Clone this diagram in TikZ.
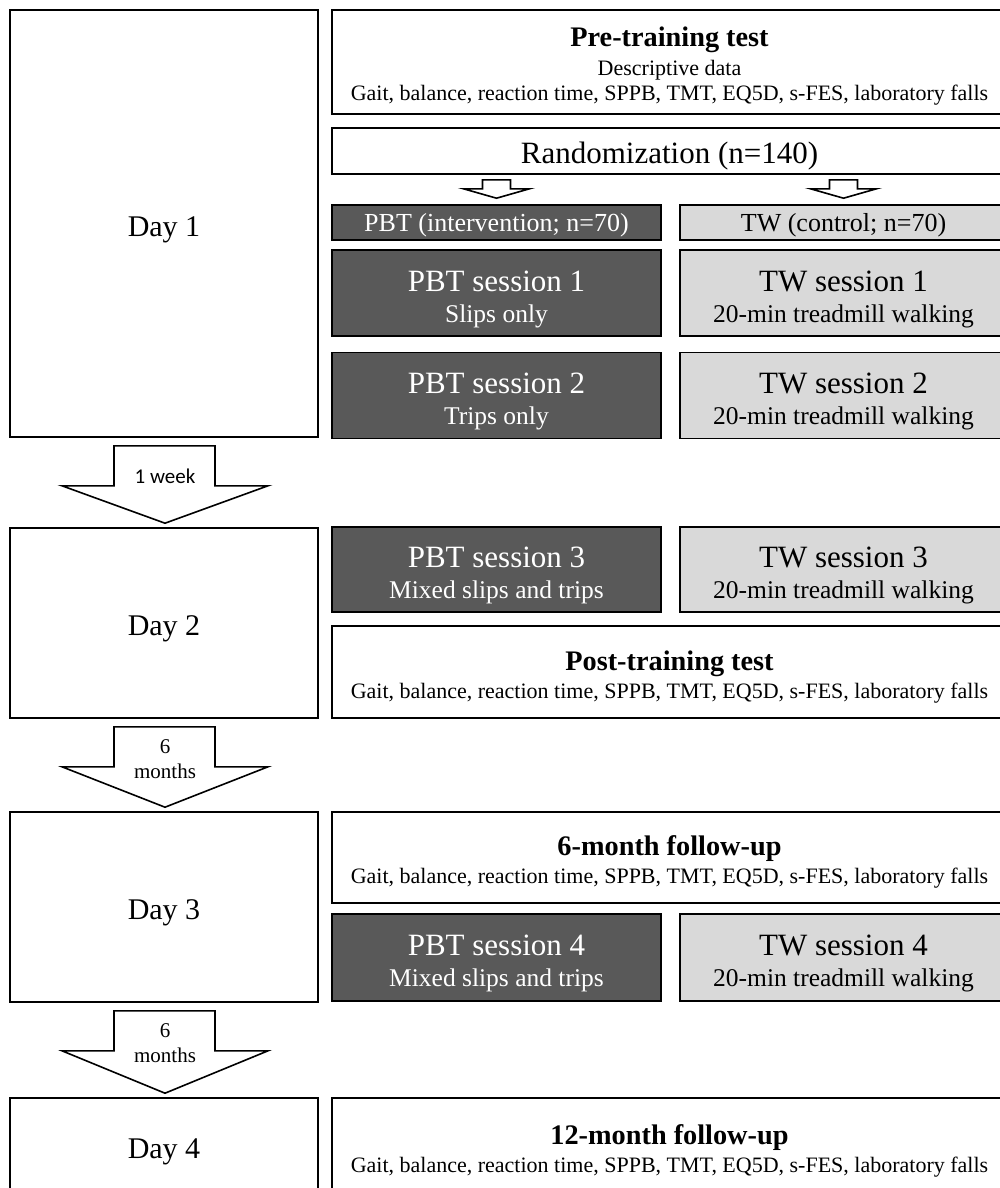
\documentclass[tikz,border=0pt]{standalone}
\usepackage{fontspec}
\setmainfont{Liberation Serif}
\newfontfamily\calibrifont{Carlito}
\usepackage{tikz}
\usetikzlibrary{calc}
\definecolor{pbtgray}{HTML}{595959}
\definecolor{twgray}{HTML}{D9D9D9}
\newcommand{\bigsize}{\fontsize{31}{33}\selectfont}
\newcommand{\headsize}{\fontsize{28.3}{31}\selectfont\bfseries}
\newcommand{\outcomes}{Gait, balance, reaction time, SPPB, TMT, EQ5D, s-FES, laboratory falls}

\begin{document}
\begin{tikzpicture}[x=1pt, y=-1pt,
		box/.style={draw, line width=1.6pt, inner sep=0pt, align=center},
		daybox/.style={box, minimum width=308pt, font=\fontsize{30}{33}\selectfont, text height=25pt, text depth=0pt},
		fullbox/.style={box, minimum width=675pt, font=\fontsize{22}{25}\selectfont, text height=52pt, text depth=0pt},
		pbtbox/.style={box, fill=pbtgray, text=white, minimum width=329pt},
		twbox/.style={box, fill=twgray, minimum width=327pt},
		session/.style={font=\fontsize{25.5}{31}\selectfont, text height=58pt, text depth=0pt},
		grouplabel/.style={minimum height=35pt, font=\fontsize{26}{28}\selectfont, text height=17pt, text depth=0pt},
		blockarrow/.style={draw, line width=1.6pt, fill=white, line join=miter}]
		\useasboundingbox (0,0) rectangle (1000,1188);
		\clip (0,0) rectangle (1000,1188);

		% Day column
		\node[daybox, minimum height=427pt] (day1) at (164,223.5) {Day 1};
		\node[daybox, minimum height=190pt] (day2) at (164,623) {Day 2};
		\node[daybox, minimum height=190pt] (day3) at (164,907) {Day 3};
		\node[daybox, minimum height=96pt] (day4) at (164,1146) {Day 4};

		% Day 1
		\node[fullbox, minimum height=104pt, text height=78pt] (pre) at (669.5,62)
			{\headsize Pre-training test\\[4pt] Descriptive data\\ \outcomes};
		\node[fullbox, minimum height=46pt, font=\bigsize, text height=24pt] (rand) at (669.5,151) {Randomization (n=140)};
		\node[pbtbox, grouplabel] (pbtg) at (496.5,222.5) {PBT (intervention; n=70)};
		\node[twbox, grouplabel] (twg) at (843.5,222.5) {TW (control; n=70)};
		\node[pbtbox, session, minimum height=86pt] (pbt1) at (496.5,293) {\bigsize PBT session 1\\ Slips only};
		\node[twbox, session, minimum height=86pt] (tw1) at (843.5,293) {\bigsize TW session 1\\ 20-min treadmill walking};
		\node[pbtbox, session, minimum height=86pt] (pbt2) at (496.5,395.5) {\bigsize PBT session 2\\ Trips only};
		\node[twbox, session, minimum height=86pt] (tw2) at (843.5,395.5) {\bigsize TW session 2\\ 20-min treadmill walking};

		% Day 2
		\node[pbtbox, session, minimum height=85pt] (pbt3) at (496.5,569.5) {\bigsize PBT session 3\\ Mixed slips and trips};
		\node[twbox, session, minimum height=85pt] (tw3) at (843.5,569.5) {\bigsize TW session 3\\ 20-min treadmill walking};
		\node[fullbox, minimum height=92pt] (post) at (669.5,672)
			{\headsize Post-training test\\[3pt] \outcomes};

		% Day 3
		\node[fullbox, minimum height=91pt] (fu6) at (669.5,857.5)
			{\headsize 6-month follow-up\\[3pt] \outcomes};
		\node[pbtbox, session, minimum height=87pt] (pbt4) at (496.5,957.5) {\bigsize PBT session 4\\ Mixed slips and trips};
		\node[twbox, session, minimum height=87pt] (tw4) at (843.5,957.5) {\bigsize TW session 4\\ 20-min treadmill walking};

		% Day 4
		\node[fullbox, minimum height=96pt] (fu12) at (669.5,1146)
			{\headsize 12-month follow-up\\[3pt] \outcomes};

		% Randomization arrows
		\foreach \grp in {pbtg, twg} {
				\coordinate (top) at (\grp.north |- rand.south);
				\draw[blockarrow] ($(top)+(-14,5)$) -- ($(top)+(14,5)$) -- ($(top)+(14,14)$)
					-- ($(top)+(33,14)$) -- ($(\grp.north)+(0,-6)$) -- ($(top)+(-33,14)$)
					-- ($(top)+(-14,14)$) -- cycle;
			}

		% Time arrows between days
		\foreach \a/\b in {day1/day2, day2/day3, day3/day4} {
				\draw[blockarrow] ($(\a.south)+(-50,8)$) -- ($(\a.south)+(51,8)$) -- ($(\a.south)+(51,48)$)
					-- ($(\a.south)+(104,48)$) -- ($(\b.north)+(1,-4)$) -- ($(\a.south)+(-102,48)$)
					-- ($(\a.south)+(-50,48)$) -- cycle;
			}
		\node[font=\calibrifont\fontsize{21}{24}\selectfont] (wk1) at ($(day1.south)+(1,38)$) {1 week};
		\node[font=\fontsize{21}{25}\selectfont, align=center] (mo6a) at ($(day2.south)+(1,40)$) {6\\months};
		\node[font=\fontsize{21}{25}\selectfont, align=center] (mo6b) at ($(day3.south)+(1,40)$) {6\\months};
	\end{tikzpicture}
\end{document}
